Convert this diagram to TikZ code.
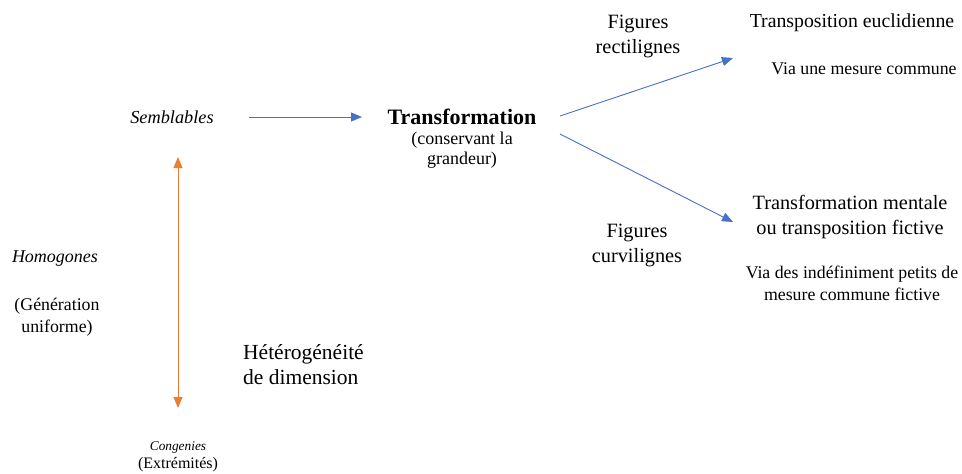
\documentclass[tikz,border=0pt]{standalone}
\usepackage{fontspec}
\setmainfont{Liberation Serif}
\usetikzlibrary{arrows.meta}
\definecolor{cblue}{RGB}{68,114,196}
\definecolor{corange}{RGB}{237,125,49}
\begin{document}
\begin{tikzpicture}[x=1pt,y=-1pt,
  txt/.style={inner sep=0pt,align=center,font=\fontsize{20.3}{25}\selectfont},
  small/.style={inner sep=0pt,align=center,font=\fontsize{17.8}{22}\selectfont},
  barrow/.style={draw=cblue,line width=0.9pt,-{Triangle[length=11pt,width=9pt]}},
  oarrow/.style={draw=corange,line width=0.9pt,{Triangle[length=11pt,width=9pt]}-{Triangle[length=11pt,width=9pt]}}]
\useasboundingbox (0,0) rectangle (962,474);
\node[txt,font=\fontsize{18.3}{24}\selectfont\itshape] (semb) at (172,117) {Semblables};
\node[txt,font=\fontsize{22}{24}\selectfont\bfseries] (transf) at (462,117) {Transformation};
\node[small,anchor=north,font=\fontsize{18}{20}\selectfont] (cons) at (462,132) {(conservant la\\grandeur)};
\node[txt] (rect) at (638,36) {Figures\\rectilignes};
\node[txt] (curv) at (637,245) {Figures\\curvilignes};
\node[txt,font=\fontsize{19.8}{25}\selectfont] (eucl) at (852,23) {Transposition euclidienne};
\node[small] (mes) at (864,69) {Via une mesure commune};
\node[txt] (ment) at (850,217) {Transformation mentale\\ou transposition fictive};
\node[small] (indef) at (852,283) {Via des indéfiniment petits de\\mesure commune fictive};
\node[txt,font=\fontsize{18}{24}\selectfont\itshape] (homo) at (55,259) {Homogones};
\node[small] (gen) at (57,317) {(Génération\\uniforme)};
\node[txt,align=left,anchor=west,font=\fontsize{21.5}{25}\selectfont] (hetero) at (243,365) {Hétérogénéité\\de dimension};
\node[inner sep=0pt,font=\fontsize{13.3}{16}\selectfont\itshape] (cong) at (178,448) {Congenies};
\node[inner sep=0pt,font=\fontsize{16}{16}\selectfont] (extr) at (178,465) {(Extrémités)};
\coordinate (a1) at (249,117);
\coordinate (a2) at (362,117);
\coordinate (b0) at (560,116);
\coordinate (b1) at (733,58);
\coordinate (c0) at (560,134);
\coordinate (c1) at (733,222);
\coordinate (o1) at (178,157);
\coordinate (o2) at (178,408);
\draw[barrow] (a1) -- (a2);
\draw[barrow] (b0) -- (b1);
\draw[barrow] (c0) -- (c1);
\draw[oarrow] (o1) -- (o2);
\end{tikzpicture}
\end{document}
